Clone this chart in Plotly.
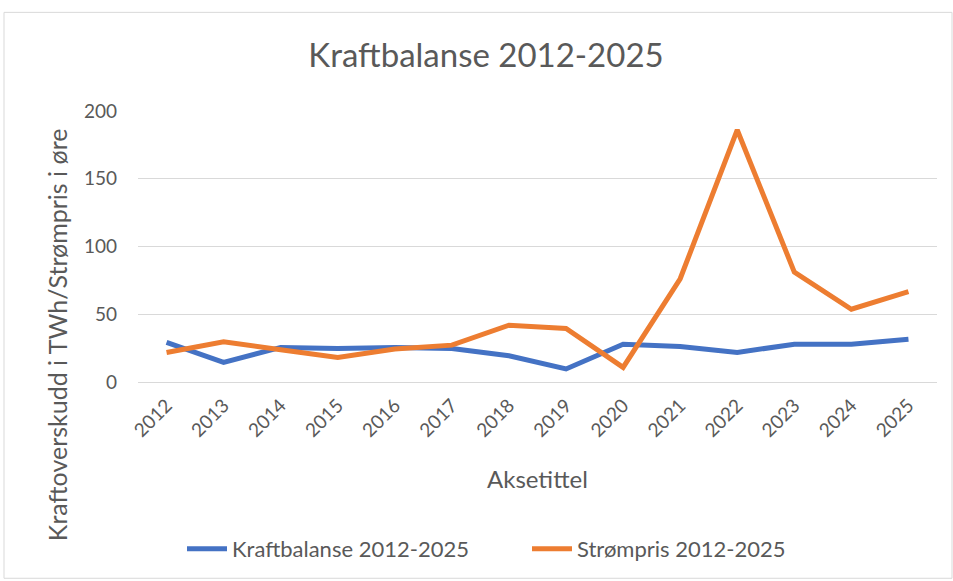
import plotly.graph_objects as go

# Data
aar = ["2012", "2013", "2014", "2015", "2016", "2017", "2018",
       "2019", "2020", "2021", "2022", "2023", "2024", "2025"]
kraftbalanse = [29.2, 14.5, 25.5, 24.8, 25.5, 24.8, 19.4,
                9.6, 27.9, 26.2, 21.8, 27.9, 27.9, 31.6]
strompris = [21.8, 29.7, 23.8, 18.1, 24.3, 27.2, 41.9,
             39.5, 10.8, 76.2, 186.0, 81.1, 53.7, 66.7]

BLUE = "#4472C4"
ORANGE = "#ED7D31"
TEXT = "#595959"
GRID = "#D9D9D9"
FONT = "Lato"

# plottområdet i piksler (fra referansen)
L, R, T, B = 138, 937, 111, 383
PW, PH = R - L, B - T


def px_x(p):
    return (p - L) / PW


def px_y(p):
    return (B - p) / PH


fig = go.Figure()
fig.add_trace(go.Scatter(x=aar, y=kraftbalanse, mode="lines",
                         name="Kraftbalanse 2012-2025",
                         line=dict(color=BLUE, width=5)))
fig.add_trace(go.Scatter(x=aar, y=strompris, mode="lines",
                         name="Strømpris 2012-2025",
                         line=dict(color=ORANGE, width=5)))

fig.update_layout(
    width=953, height=581,
    margin=dict(l=L, r=953 - R, t=T, b=581 - B),
    paper_bgcolor="white",
    plot_bgcolor="white",
    font=dict(family=FONT, color=TEXT, size=16),
    title=dict(text="Kraftbalanse 2012-2025", x=486 / 953, xanchor="center",
               y=1 - 55 / 581, yanchor="middle",
               font=dict(size=33, color=TEXT, family=FONT)),
    showlegend=True,
    legend=dict(orientation="h", x=px_x(182), xanchor="left",
                y=px_y(549), yanchor="middle",
                font=dict(size=22, color=TEXT), itemwidth=40,
                entrywidthmode="pixels", entrywidth=290),
)

fig.update_xaxes(
    type="category", range=[-0.5, len(aar) - 0.5], tickangle=-45,
    tickfont=dict(size=19, color=TEXT),
    showgrid=False, showline=True, linecolor=GRID, linewidth=1,
    ticks="", ticklabelstandoff=4,
)
fig.update_yaxes(
    range=[0, 200], dtick=50, tickfont=dict(size=19, color=TEXT),
    showgrid=True, gridcolor=GRID, gridwidth=1, zeroline=False,
    showline=False, ticks="", ticklabelstandoff=20,
)

# aksetitler som annotasjoner for å matche Excel-plasseringen
fig.add_annotation(text="Aksetittel", xref="paper", yref="paper",
                   x=0.5, y=px_y(480), xanchor="center", yanchor="middle",
                   showarrow=False, font=dict(size=24, color=TEXT))
fig.add_annotation(text="Kraftoverskudd i TWh/Strømpris i øre", xref="paper", yref="paper",
                   x=px_x(57), y=px_y(336), xanchor="center", yanchor="middle",
                   textangle=-90, showarrow=False, font=dict(size=25, color=TEXT))

# ramme rundt hele diagramområdet
fig.add_shape(type="rect", xref="paper", yref="paper",
              x0=px_x(4), x1=px_x(952), y0=px_y(580), y1=px_y(12),
              line=dict(color=GRID, width=1), fillcolor="rgba(0,0,0,0)", layer="below")

fig.write_html("out.html", config={"displayModeBar": False},
               post_script="document.body.style.margin='0';")
